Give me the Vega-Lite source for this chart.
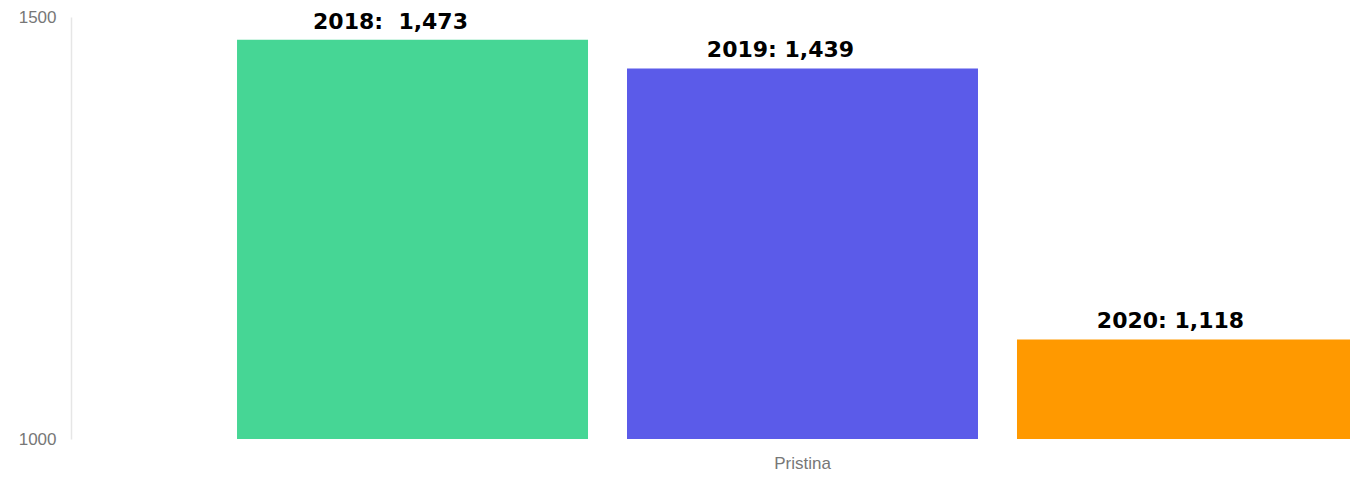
{
  "$schema": "https://vega.github.io/schema/vega-lite/v6.json",
  "width": 1463,
  "height": 422,
  "padding": {"left": 0, "top": 8, "right": 0, "bottom": 0},
  "background": "white",
  "config": {"view": {"stroke": null}},
  "data": {
    "values": [
      {"city": "Pristina", "year": "2018", "value": 1473, "label": "2018: \u00a01,473"},
      {"city": "Pristina", "year": "2019", "value": 1439, "label": "2019: 1,439"},
      {"city": "Pristina", "year": "2020", "value": 1118, "label": "2020: 1,118"}
    ]
  },
  "encoding": {
    "x": {
      "field": "city", "type": "nominal",
      "scale": {"paddingInner": 0, "paddingOuter": 0.1468},
      "axis": {
        "title": null, "domain": false, "ticks": false, "labelAngle": 0,
        "labelFont": "Liberation Sans", "labelFontSize": 17, "labelColor": "#777777",
        "labelPadding": 16
      }
    },
    "xOffset": {
      "field": "year", "type": "nominal",
      "scale": {"paddingInner": 0.1, "paddingOuter": 0}
    },
    "y": {
      "field": "value", "type": "quantitative",
      "scale": {"domain": [1000, 1500], "zero": false, "nice": false},
      "axis": {
        "title": null, "values": [1000, 1500], "format": "d", "grid": false, "ticks": false,
        "domainColor": "#e6e6e6", "domainWidth": 1.5,
        "labelFont": "Liberation Sans", "labelFontSize": 17, "labelColor": "#777777",
        "labelPadding": 15, "minExtent": 71, "maxExtent": 71
      }
    }
  },
  "layer": [
    {
      "mark": {"type": "bar", "clip": true},
      "encoding": {
        "color": {
          "field": "year", "type": "nominal",
          "scale": {"domain": ["2018", "2019", "2020"], "range": ["#46D695", "#5B5BE9", "#FF9900"]},
          "legend": null
        }
      }
    },
    {
      "mark": {
        "type": "text", "baseline": "bottom", "align": "center", "dy": -6, "dx": -22,
        "font": "DejaVu Sans", "fontWeight": "bold", "fontSize": 22, "color": "#000000"
      },
      "encoding": {
        "text": {"field": "label", "type": "nominal"}
      }
    }
  ]
}
